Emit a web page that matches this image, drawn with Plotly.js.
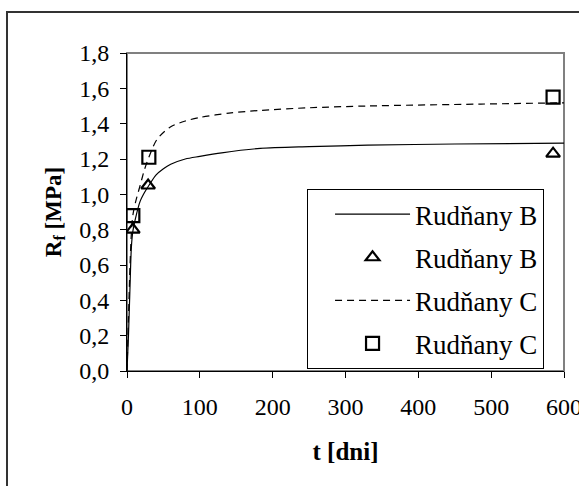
<!DOCTYPE html>
<html>
<head>
<meta charset="utf-8">
<script src="https://cdn.plot.ly/plotly-3.0.1.min.js"></script>
<style>
html,body{margin:0;padding:0;background:#fff;}
#chart{width:579px;height:486px;}
</style>
</head>
<body>
<div id="chart"></div>
<script>
// model curves
const tCurveB = [0, 2, 4, 6, 8, 12, 18, 24, 30, 40, 50, 60, 80, 100, 130, 183, 250, 330, 450, 600];
const curveB = [0, 0.20, 0.46, 0.70, 0.79, 0.87, 0.96, 1.01, 1.05, 1.11, 1.145, 1.17, 1.20, 1.215, 1.235, 1.26, 1.27, 1.278, 1.285, 1.29];
const tCurveC = [0, 2, 4, 6, 8, 12, 18, 24, 30, 41, 59, 80, 100, 140, 183, 250, 330, 486, 600];
const curveC = [0, 0.30, 0.58, 0.78, 0.88, 0.96, 1.05, 1.14, 1.21, 1.31, 1.38, 1.415, 1.435, 1.46, 1.475, 1.49, 1.50, 1.511, 1.518];
// measured points
const tMeasB = [8, 29, 585];
const measB = [0.80, 1.05, 1.23];
const tMeasC = [8, 30, 585];
const measC = [0.88, 1.21, 1.55];
const seriesNames = ['Rudňany B', 'Rudňany B', 'Rudňany C', 'Rudňany C'];
const xTicks = [0, 100, 200, 300, 400, 500, 600];
const yTicks = [0, 0.2, 0.4, 0.6, 0.8, 1.0, 1.2, 1.4, 1.6, 1.8];

const FONT = '"Liberation Serif", "Times New Roman", serif';

const traces = [
  {x: tCurveB, y: curveB, mode: 'lines', name: seriesNames[0], legendgroup: 'a',
   line: {color: '#000', width: 1.2, shape: 'spline', smoothing: 0.8}},
  {x: tMeasB, y: measB, mode: 'markers', name: seriesNames[1], legendgroup: 'b',
   marker: {symbol: 'triangle-up-open', size: 12, color: '#000', line: {width: 2.2, color: '#000'}}},
  {x: tCurveC, y: curveC, mode: 'lines', name: seriesNames[2], legendgroup: 'c',
   line: {color: '#000', width: 1.2, dash: '7px,5px', shape: 'spline', smoothing: 0.8}},
  {x: tMeasC, y: measC, mode: 'markers', name: seriesNames[3], legendgroup: 'd',
   marker: {symbol: 'square-open', size: 13, color: '#000', line: {width: 2.2, color: '#000'}}}
];

const layout = {
  width: 579, height: 486,
  margin: {l: 127, r: 15, t: 53, b: 115, pad: 0},
  paper_bgcolor: '#fff', plot_bgcolor: '#fff',
  separators: ', ',
  font: {family: FONT, color: '#000', size: 24},
  showlegend: true,
  legend: {
    x: 0.412, y: 0.006, xanchor: 'left', yanchor: 'bottom',
    bgcolor: '#fff', bordercolor: '#000', borderwidth: 1,
    font: {family: FONT, size: 27, color: '#000'},
    traceorder: 'grouped', tracegroupgap: 5,
    itemwidth: 75, indentation: 22, entrywidth: 222
  },
  xaxis: {
    range: [0, 600], tickvals: xTicks, ticktext: xTicks.map(String),
    showgrid: false, zeroline: false, automargin: false,
    showline: true, linecolor: '#000', linewidth: 1,
    ticks: 'outside', ticklen: 6, tickcolor: '#000', tickwidth: 1,
    ticklabeloverflow: 'allow', ticklabelstandoff: 8,
    tickfont: {family: FONT, size: 24, color: '#000'},
    title: {text: '<b>t [dni]</b>', font: {family: FONT, size: 25, color: '#000'}, standoff: 23}
  },
  yaxis: {
    range: [0, 1.8], tickvals: yTicks, tickformat: '.1f',
    showgrid: false, zeroline: false, automargin: false,
    showline: true, linecolor: '#000', linewidth: 1,
    ticks: 'outside', ticklen: 6, tickcolor: '#000', tickwidth: 1,
    ticklabelstandoff: 6,
    tickfont: {family: FONT, size: 24, color: '#000'},
    title: {text: '<b>R<sub>f</sub> [MPa]</b>', font: {family: FONT, size: 23, color: '#000'}, standoff: 11}
  },
  shapes: [
    {type: 'rect', xref: 'paper', yref: 'paper', x0: 0, x1: 1, y0: 0, y1: 1,
     line: {color: '#808080', width: 2}, layer: 'below'},
    {type: 'rect', xref: 'paper', yref: 'paper', x0: -0.2746, x1: 1.3, y0: -0.6, y1: 1.129,
     line: {color: '#333', width: 2}, fillcolor: 'rgba(0,0,0,0)', layer: 'below'}
  ]
};

Plotly.newPlot('chart', traces, layout, {staticPlot: true, displayModeBar: false});
</script>
</body>
</html>
